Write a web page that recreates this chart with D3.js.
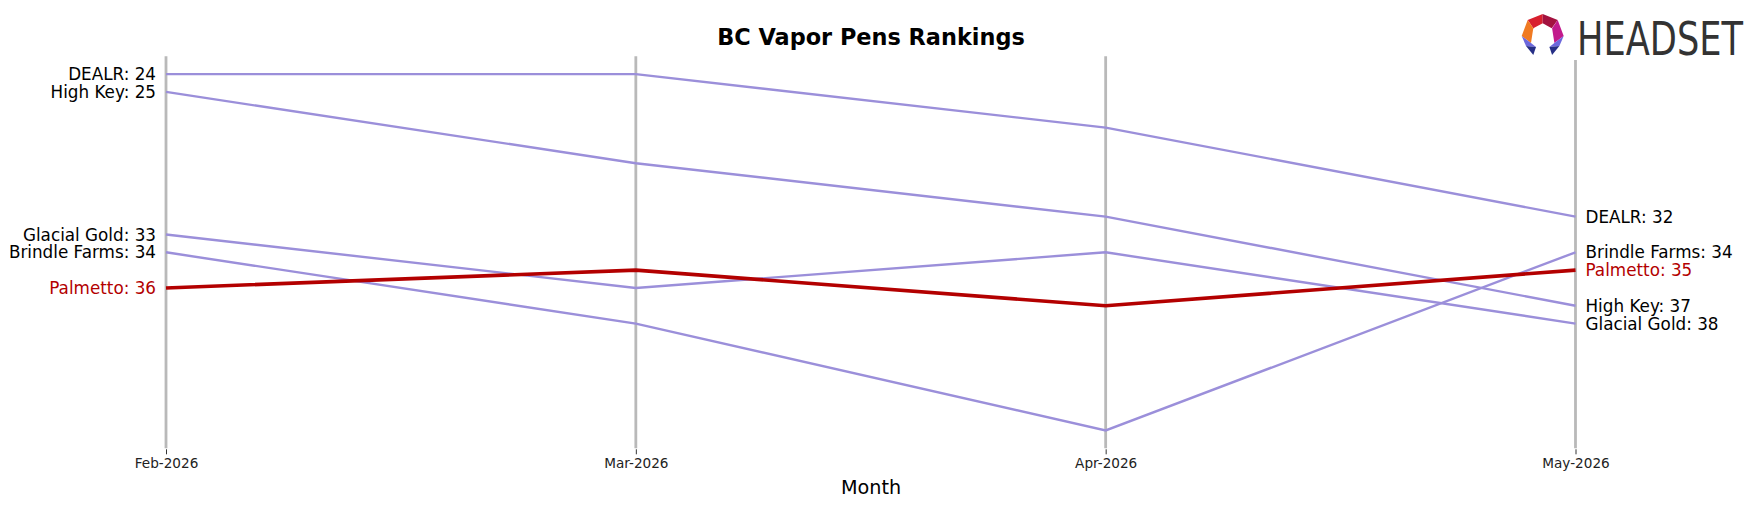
<!DOCTYPE html>
<html>
<head>
<meta charset="utf-8">
<script src="https://cdn.jsdelivr.net/npm/d3@7"></script>
<style>
  html, body { margin: 0; padding: 0; background: #fff; }
  svg { display: block; font-family: "DejaVu Sans", sans-serif; }
</style>
</head>
<body>
<div id="chart"></div>
<script>
const months = ["Feb-2026", "Mar-2026", "Apr-2026", "May-2026"];
const brands = ["DEALR", "High Key", "Glacial Gold", "Brindle Farms", "Palmetto"];
const dealr = [24, 24, 27, 32];
const highKey = [25, 29, 32, 37];
const glacialGold = [33, 36, 34, 38];
const brindleFarms = [34, 38, 44, 34];
const palmetto = [36, 35, 37, 35];
const highlight = "Palmetto";

const ranks = [dealr, highKey, glacialGold, brindleFarms, palmetto];

const W = 1757, H = 507;
const purple = "#9b8fda";
const red = "#b30000";

const svg = d3.select("#chart").append("svg")
  .attr("width", W)
  .attr("height", H);

const x = d3.scalePoint().domain(months).range([166, 1575.5]);
const y = d3.scaleLinear().domain([23, 45]).range([56.3, 448.3]);

// vertical month lines
svg.append("g").selectAll("line")
  .data(months)
  .enter().append("line")
  .attr("x1", d => x(d)).attr("x2", d => x(d))
  .attr("y1", y(23)).attr("y2", y(45))
  .attr("stroke", "#b9b9b9")
  .attr("stroke-width", 2.8);

// bottom axis (ticks + labels only)
const axis = svg.append("g")
  .attr("transform", `translate(0,${y(45) + 1})`)
  .call(d3.axisBottom(x).tickSize(5).tickPadding(4));
axis.select(".domain").remove();
axis.selectAll(".tick line").attr("stroke", "#000").attr("stroke-width", 0.8);
axis.selectAll(".tick text")
  .attr("font-size", "13.6px")
  .attr("font-family", "DejaVu Sans")
  .attr("fill", "#222");

const line = d3.line()
  .x((d, i) => x(months[i]))
  .y(d => y(d));

const series = brands.map((b, i) => ({ name: b, values: ranks[i] }));
const ordered = series.filter(s => s.name !== highlight)
  .concat(series.filter(s => s.name === highlight));

ordered.forEach(s => {
  const hi = s.name === highlight;
  svg.append("path")
    .datum(s.values)
    .attr("fill", "none")
    .attr("stroke", hi ? red : purple)
    .attr("stroke-width", hi ? 3.6 : 2.4)
    .attr("stroke-linejoin", "miter")
    .attr("d", line);
});

// end labels
series.forEach(s => {
  const hi = s.name === highlight;
  const last = months.length - 1;
  svg.append("text")
    .attr("x", x(months[0]) - 10)
    .attr("y", y(s.values[0]))
    .attr("dy", "0.36em")
    .attr("text-anchor", "end")
    .attr("font-size", "16.8px")
    .attr("fill", hi ? red : "#000")
    .text(`${s.name}: ${s.values[0]}`);
  svg.append("text")
    .attr("x", x(months[last]) + 10)
    .attr("y", y(s.values[last]))
    .attr("dy", "0.36em")
    .attr("text-anchor", "start")
    .attr("font-size", "16.8px")
    .attr("fill", hi ? red : "#000")
    .text(`${s.name}: ${s.values[last]}`);
});

// title
svg.append("text")
  .attr("x", 871)
  .attr("y", 44.5)
  .attr("text-anchor", "middle")
  .attr("font-size", "22.4px")
  .attr("font-weight", "bold")
  .text("BC Vapor Pens Rankings");

// x axis label
svg.append("text")
  .attr("x", 871)
  .attr("y", 494)
  .attr("text-anchor", "middle")
  .attr("font-size", "19.2px")
  .text("Month");

// logo
const logo = svg.append("g");
logo.append("rect")
  .attr("x", 1512).attr("y", 8).attr("width", 240).attr("height", 52)
  .attr("fill", "#fff");
const cx = 1542.7;
const mirror = pts => pts.map(([px, py]) => [2 * cx - px, py]);
const pieces = [
  { c: "#d8202e", p: [[1527.7, 20], [1542.7, 14], [1542.7, 23.3], [1533.3, 28.3]] },
  { c: "#a3123f", p: [[1542.7, 14], [1557.7, 20], [1551.7, 28.3], [1542.7, 23.3]] },
  { c: "#f07a22", p: [[1527.7, 20], [1533.3, 28.3], [1531, 43], [1521.7, 36]] },
  { c: "#c21a8c", p: mirror([[1527.7, 20], [1533.3, 28.3], [1531, 43], [1521.7, 36]]) },
  { c: "#6c68dc", p: [[1521.7, 36], [1531, 43], [1536, 47], [1526, 46]] },
  { c: "#6c68dc", p: mirror([[1521.7, 36], [1531, 43], [1536, 47], [1526, 46]]) },
  { c: "#262f86", p: [[1526, 46], [1536, 47], [1533.3, 55]] },
  { c: "#262f86", p: mirror([[1526, 46], [1536, 47], [1533.3, 55]]) }
];
pieces.forEach(pc => {
  logo.append("polygon")
    .attr("points", pc.p.map(q => q.join(",")).join(" "))
    .attr("fill", pc.c);
});
logo.append("text")
  .attr("x", 1577)
  .attr("y", 55)
  .attr("font-family", "'Liberation Sans Narrow', 'DejaVu Sans Condensed', sans-serif")
  .attr("font-size", "46px")
  .attr("fill", "#333")
  .attr("textLength", 166)
  .attr("lengthAdjust", "spacingAndGlyphs")
  .text("HEADSET");
</script>
</body>
</html>
